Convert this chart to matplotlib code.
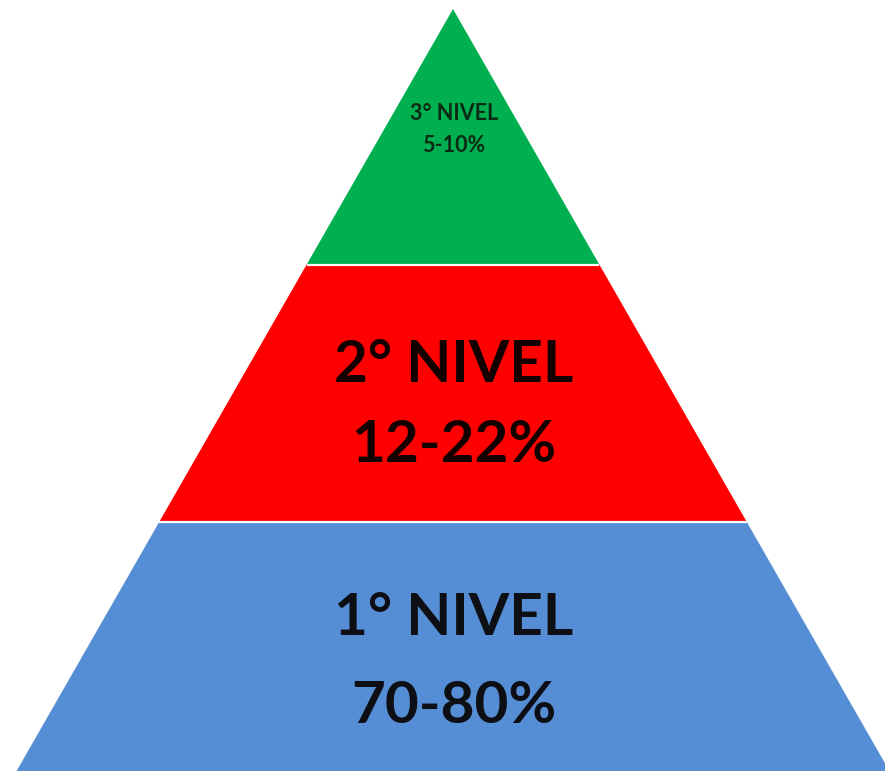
import matplotlib
matplotlib.use('Agg')
import matplotlib.pyplot as plt
from matplotlib.patches import Polygon

# level data, bottom to top
levels = ['1° NIVEL', '2° NIVEL', '3° NIVEL']
ranges = ['70-80%', '12-22%', '5-10%']
band_share = [0.327, 0.338, 0.335]   # share of pyramid height per level
colors = ['#558ED5', '#FF0000', '#00B050']
text_colors = ['#0d0f14', '#120000', '#0a2a14']

W, H = 885, 771
APEX_X, APEX_Y = 453, 9
BASE_Y = 772
HALF_BASE = 437

# label baselines (pixels from top) and font sizes
name_base = [635, 382, 120]
range_base = [723, 462, 152]
font_sizes = [42, 42, 15.5]

fig = plt.figure(figsize=(W / 100, H / 100), dpi=100, facecolor='white')
ax = fig.add_axes([0, 0, 1, 1])
ax.set_xlim(0, W)
ax.set_ylim(H, 0)
ax.axis('off')

slope = HALF_BASE / (BASE_Y - APEX_Y)


def half_width(y):
    return (y - APEX_Y) * slope


total = BASE_Y - APEX_Y
y_bottom = BASE_Y
for i in range(len(levels)):
    y_top = y_bottom - band_share[i] * total
    if i == len(levels) - 1:
        y_top = APEX_Y
    hb, ht = half_width(y_bottom), half_width(y_top)
    pts = [(APEX_X - hb, y_bottom), (APEX_X + hb, y_bottom),
           (APEX_X + ht, y_top), (APEX_X - ht, y_top)]
    ax.add_patch(Polygon(pts, closed=True, facecolor=colors[i],
                         edgecolor='none', antialiased=True))
    # white separator between levels
    if i < len(levels) - 1:
        ax.plot([APEX_X - ht, APEX_X + ht], [y_top, y_top],
                color='white', linewidth=1.6, solid_capstyle='butt')
    y_bottom = y_top

for i in range(len(levels)):
    kw = dict(ha='center', va='baseline', fontsize=font_sizes[i],
              fontweight='bold', family=['Lato', 'DejaVu Sans'],
              color=text_colors[i])
    ax.text(APEX_X + 1, name_base[i], levels[i], **kw)
    ax.text(APEX_X + 1, range_base[i], ranges[i], **kw)

fig.savefig('out.png', dpi=100, facecolor='white')
plt.close(fig)
